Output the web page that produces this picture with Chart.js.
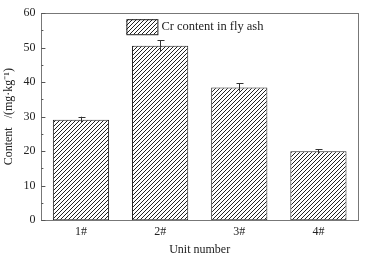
<!DOCTYPE html>
<html>
<head>
<meta charset="utf-8">
<script src="https://cdn.jsdelivr.net/npm/chart.js@4/dist/chart.umd.min.js"></script>
<style>
  html, body { margin: 0; padding: 0; background: #fff; }
  #wrap { width: 366px; height: 257px; }
  #probe { position: absolute; left: -999px; font-family: 'Liberation Serif'; }
</style>
</head>
<body>
<div id="probe">Unit number 0123456789</div>
<div id="wrap"><canvas id="c" width="366" height="257"></canvas></div>
<script>
const units = ['1#', '2#', '3#', '4#'];
const crContent = [29.1, 50.6, 38.5, 20.0];
const crError = [0.9, 1.6, 1.2, 0.5];
const legendLabel = 'Cr content in fly ash';
const yTitle = 'Content   /(mg·kg\u207B\u00B9)';
const xTitle = 'Unit number';

const FONT = "'Liberation Serif', 'Times New Roman', serif";

function makeHatch() {
    const size = 4;
    const cv = document.createElement('canvas');
    cv.width = size; cv.height = size;
    const g = cv.getContext('2d');
    g.fillStyle = '#fff';
    g.fillRect(0, 0, size, size);
    g.strokeStyle = '#222';
    g.lineWidth = 1;
    g.beginPath();
    g.moveTo(0, size); g.lineTo(size, 0);
    g.moveTo(-1, 1); g.lineTo(1, -1);
    g.moveTo(size - 1, size + 1); g.lineTo(size + 1, size - 1);
    g.stroke();
    return document.getElementById('c').getContext('2d').createPattern(cv, 'repeat');
}

const hatch = makeHatch();

const frameAndExtras = {
    id: 'frameAndExtras',
    afterDatasetsDraw(chart) {
        const ctx = chart.ctx;
        const a = chart.chartArea;
        const x = chart.scales.x, y = chart.scales.y;
        ctx.save();
        // error bars
        ctx.strokeStyle = '#333';
        ctx.lineWidth = 1;
        crContent.forEach((v, i) => {
            const px = Math.round(x.getPixelForValue(i)) + 0.5;
            const top = y.getPixelForValue(v + crError[i]);
            const bot = y.getPixelForValue(v - crError[i]);
            ctx.beginPath();
            ctx.moveTo(px, top); ctx.lineTo(px, bot);
            ctx.moveTo(px - 3, Math.round(top) + 0.5); ctx.lineTo(px + 4, Math.round(top) + 0.5);
            ctx.stroke();
        });
        // frame
        ctx.strokeStyle = '#777';
        ctx.strokeRect(Math.round(a.left) + 0.5, Math.round(a.top) + 0.5,
            Math.round(a.right - a.left), Math.round(a.bottom - a.top));
        // inward y ticks, major every 10, minor every 5
        ctx.strokeStyle = '#555';
        for (let v = 0; v <= 60; v += 5) {
            const py = Math.round(y.getPixelForValue(v)) + 0.5;
            const len = v % 10 === 0 ? 4 : 2;
            ctx.beginPath();
            ctx.moveTo(a.left, py); ctx.lineTo(a.left + len, py);
            ctx.stroke();
        }
        // legend inside the plot
        const lx = a.left + 85, ly = a.top + 6;
        ctx.fillStyle = hatch;
        ctx.fillRect(lx, ly, 31, 15);
        ctx.strokeStyle = '#222';
        ctx.strokeRect(lx + 0.5, ly + 0.5, 31, 15);
        ctx.fillStyle = '#222';
        ctx.font = '12.5px ' + FONT;
        ctx.textBaseline = 'middle';
        ctx.fillText(legendLabel, lx + 35, ly + 8);
        ctx.restore();
    }
};

function draw() {
    new Chart(document.getElementById('c'), {
        type: 'bar',
        data: {
            labels: units,
            datasets: [{
                label: legendLabel,
                data: crContent,
                backgroundColor: hatch,
                borderColor: '#222',
                borderWidth: 1,
                borderSkipped: false,
                categoryPercentage: 1,
                barPercentage: 0.71
            }]
        },
        options: {
            responsive: false,
            animation: false,
            devicePixelRatio: 1,
            layout: { padding: { top: 2, right: 8, left: 0, bottom: 0 } },
            plugins: { legend: { display: false }, tooltip: { enabled: false } },
            scales: {
                x: {
                    grid: { display: false, drawTicks: false },
                    border: { display: false },
                    ticks: { color: '#222', font: { family: FONT, size: 12 }, padding: 4 },
                    title: { display: true, text: xTitle, color: '#222', font: { family: FONT, size: 12 }, padding: { top: 0, bottom: 0 } }
                },
                y: {
                    min: 0, max: 60,
                    grid: { display: false, drawTicks: false },
                    border: { display: false },
                    ticks: { stepSize: 10, color: '#222', font: { family: FONT, size: 12 }, padding: 6 },
                    title: { display: true, text: yTitle, color: '#222', font: { family: FONT, size: 12 }, padding: { top: 2, bottom: 1 } }
                }
            }
        },
        plugins: [frameAndExtras]
    });
}

document.fonts.ready.then(draw);
</script>
</body>
</html>
